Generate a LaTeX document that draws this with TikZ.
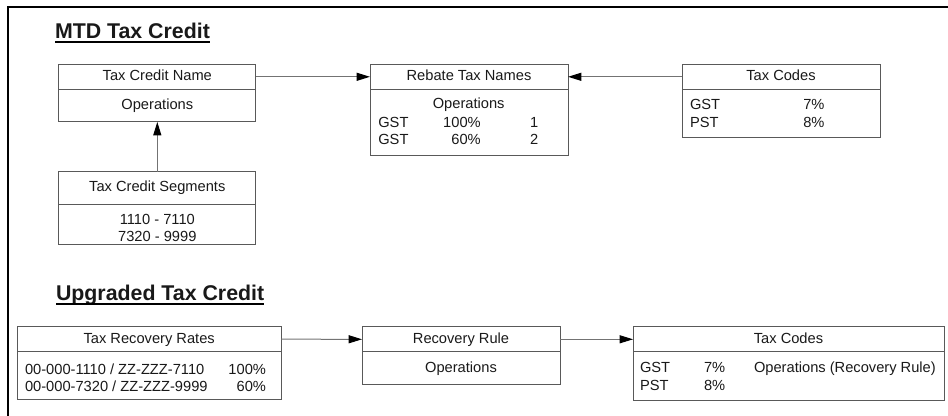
\documentclass[tikz,border=0pt]{standalone}
\usepackage{fontspec}
\setmainfont{Liberation Sans}
\usetikzlibrary{positioning,arrows.meta}

\begin{document}
\begin{tikzpicture}[x=0.75pt,y=-0.75pt,
    every node/.style={font=\fontsize{11}{13}\selectfont, text=black!90,
        inner sep=0pt, outer sep=0pt},
    hdr/.style={draw=black!65, line width=0.75pt, text height=8pt, text depth=2.3pt},
    sz/.style 2 args={minimum width=#1, minimum height=#2},
    txt/.style={anchor=base west},
    ttl/.style={anchor=base west, font=\fontsize{16}{19}\selectfont\bfseries},
    uline/.style={line width=1.5pt},
    frame/.style={line width=1.5pt},
    link/.style={draw=black!55, line width=0.75pt,
        -{Triangle[length=10pt,width=6pt,color=black]}}]
    \useasboundingbox (0,0) rectangle (948,416);
    \draw[frame] (8,416) |- (948,7);

    % MTD tax credit
    \node[ttl] (mtd) at (55,38.3) {MTD Tax Credit};
    \draw[uline] ([yshift=-2.9pt]mtd.base west) -- ([yshift=-2.9pt]mtd.base east);

    \node[hdr, sz={148pt}{18.75pt}] (tcn) at (157.3,76.8) {Tax Credit Name};
    \node[hdr, sz={148pt}{24.5pt}, below=0pt of tcn] (tcnb) {Operations};

    \node[hdr, sz={148pt}{24.5pt}] (tcs) at (157.3,188) {Tax Credit Segments};
    \node[hdr, sz={148pt}{30.5pt}, below=0pt of tcs] (tcsb) {};
    \node[txt, anchor=base] (seg1) at (157.3,225) {1110 - 7110};
    \node[txt, anchor=base] (seg2) at (157.3,241.7) {7320 - 9999};

    \node[hdr, sz={148.5pt}{18.75pt}] (rtn) at (469,76.8) {Rebate Tax Names};
    \node[hdr, sz={148.5pt}{50pt}, below=0pt of rtn] (rtnb) {};
    \node[txt, anchor=base] (rop) at (468.7,109) {Operations};
    \node[txt] (rg1) at (378.3,127.3) {GST};
    \node[txt, anchor=base east] (rp1) at (480.7,127.3) {100\%};
    \node[txt, anchor=base east] (rn1) at (538.3,127.3) {1};
    \node[txt] (rg2) at (378.3,144.3) {GST};
    \node[txt, anchor=base east] (rp2) at (480.7,144.3) {60\%};
    \node[txt, anchor=base east] (rn2) at (538.3,144.3) {2};

    \node[hdr, sz={148.5pt}{18.75pt}] (tca) at (781,76.8) {Tax Codes};
    \node[hdr, sz={148.5pt}{36.5pt}, below=0pt of tca] (tcab) {};
    \node[txt] (cg1) at (690,109.3) {GST};
    \node[txt] (cg2) at (690,127.3) {PST};
    \node[txt] (cr1) at (803.3,109.3) {7\%};
    \node[txt] (cr2) at (803.3,127.3) {8\%};

    \draw[link] (tcn.east) -- (rtn.west);
    \draw[link] (tca.west) -- (rtn.east);
    \draw[link] (tcs.north) -- (tcnb.south);

    % upgraded tax credit
    \node[ttl] (upg) at (56,300.4) {Upgraded Tax Credit};
    \draw[uline] ([yshift=-2.6pt]upg.base west) -- ([yshift=-2.6pt]upg.base east);

    \node[hdr, sz={197.8pt}{18.75pt}] (trr) at (149.2,339.2) {Tax Recovery Rates};
    \node[hdr, sz={197.8pt}{36.2pt}, below=0pt of trr] (trrb) {};
    \node[txt] (acc1) at (25,374.3) {00-000-1110 / ZZ-ZZZ-7110};
    \node[txt] (acc2) at (25,391.7) {00-000-7320 / ZZ-ZZZ-9999};
    \node[txt, anchor=base east] (rate1) at (266,374.3) {100\%};
    \node[txt, anchor=base east] (rate2) at (266,391.7) {60\%};

    \node[hdr, sz={148.5pt}{18.75pt}] (rr) at (461,339.3) {Recovery Rule};
    \node[hdr, sz={148.5pt}{24.75pt}, below=0pt of rr] (rrb) {Operations};

    \node[hdr, sz={233.25pt}{18.75pt}] (tcb) at (788.5,339.3) {Tax Codes};
    \node[hdr, sz={233.25pt}{36.75pt}, below=0pt of tcb] (tcbb) {};
    \node[txt] (ng1) at (640,372.7) {GST};
    \node[txt] (ng2) at (640,390.7) {PST};
    \node[txt] (nr1) at (704,372.7) {7\%};
    \node[txt] (nr2) at (704,390.7) {8\%};
    \node[txt] (nop) at (754,372.7) {Operations (Recovery Rule)};

    \draw[link] (trr.east) -- (rr.west);
    \draw[link] (rr.east) -- (tcb.west);
\end{tikzpicture}
\end{document}
